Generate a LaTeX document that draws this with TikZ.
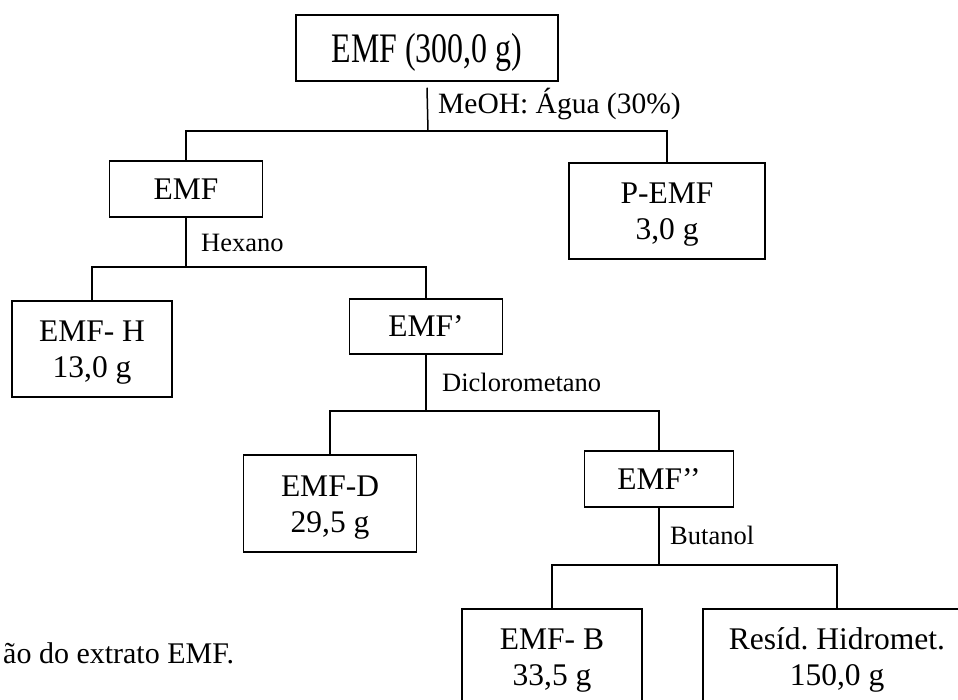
\documentclass[tikz,border=0pt]{standalone}
\usepackage{graphicx}
\usepackage{fontspec}
\setmainfont{Liberation Serif}
\frenchspacing
\newcommand{\uplift}{\rule{0pt}{28pt}}
\begin{document}
\begin{tikzpicture}[x=1pt,y=-1pt,
  box/.style={draw, line width=1.5pt, inner sep=0pt, align=center,
    font=\fontsize{31.5}{36}\selectfont},
  lbl/.style={inner sep=0pt, anchor=base west, font=\fontsize{26.5}{30}\selectfont},
  conn/.style={line width=1.5pt}]
\useasboundingbox (0,0) rectangle (958,700);

% boxes
\node[box, minimum width=262pt, minimum height=66pt, text depth=0pt] (top) at (427,48)
  {\scalebox{0.76}[1]{\fontsize{42}{46}\selectfont EMF (300,0 g)}};
\node[box, minimum width=153pt, minimum height=56pt] (emf) at (186,189) {EMF};
\node[box, minimum width=196pt, minimum height=96pt] (pemf) at (667,211) {\uplift P-EMF\\3,0 g};
\node[box, minimum width=160pt, minimum height=96pt] (emfh) at (92,349) {\uplift EMF- H\\13,0 g};
\node[box, minimum width=153pt, minimum height=55pt] (emfp) at (426,326.5) {EMF’};
\node[box, minimum width=173pt, minimum height=97pt] (emfd) at (330,503.5) {\uplift EMF-D\\29,5 g};
\node[box, minimum width=149pt, minimum height=56pt] (emfpp) at (659,479) {EMF’’};
\node[box, minimum width=180pt, minimum height=96pt] (emfb) at (552,657) {\uplift EMF- B\\33,5 g};
\node[box, minimum width=268pt, minimum height=96pt] (resid) at (837,657) {\uplift Resíd. Hidromet.\\150,0 g};

% labels
\node[lbl, font=\fontsize{29.5}{32}\selectfont] (l1) at (438,113.5) {MeOH: Água (30\%)};
\node[lbl] (l2) at (201,252) {Hexano};
\node[lbl] (l3) at (442,391) {Diclorometano};
\node[lbl] (l4) at (670,544) {Butanol};
\node[lbl, font=\fontsize{30}{34}\selectfont] (cap) at (3,663) {ão do extrato EMF.};

% connectors
\coordinate (b1) at (428,131);
\draw[conn] ([yshift=-6pt]top.south) -- (b1);
\draw[conn] (emf.north) -- (emf.north |- b1) -- (pemf.north |- b1) -- (pemf.north);

\coordinate (b2) at (186,267);
\draw[conn] (emf.south) -- (b2);
\draw[conn] (emfh.north) -- (emfh.north |- b2) -- (emfp.north |- b2) -- (emfp.north);

\coordinate (b3) at (426,411);
\draw[conn] (emfp.south) -- (b3);
\draw[conn] (emfd.north) -- (emfd.north |- b3) -- (emfpp.north |- b3) -- (emfpp.north);

\coordinate (b4) at (659,565);
\draw[conn] (emfpp.south) -- (b4);
\draw[conn] (emfb.north) -- (emfb.north |- b4) -- (resid.north |- b4) -- (resid.north);
\end{tikzpicture}
\end{document}
